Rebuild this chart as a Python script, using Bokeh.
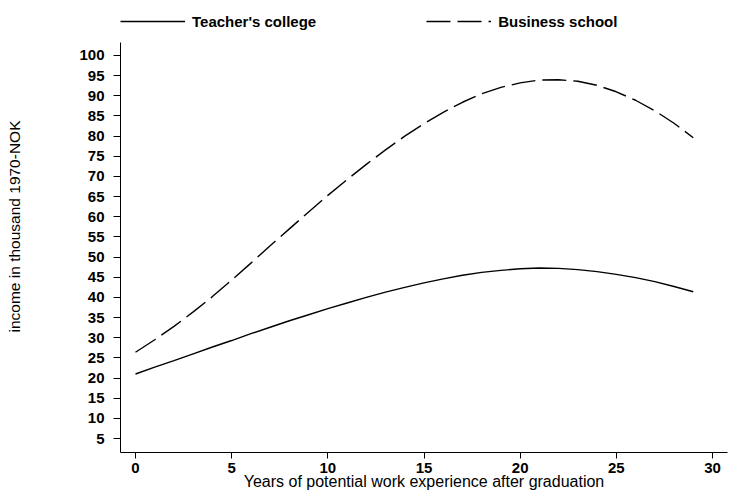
from bokeh.plotting import figure
from bokeh.models import Range1d, FixedTicker, Legend, LegendItem
from bokeh.embed import file_html
from bokeh.resources import INLINE

# --- data ---
years = list(range(30))
teacher = [21.0, 22.7, 24.3, 26.0, 27.7, 29.3, 31.0, 32.6, 34.2, 35.7,
           37.2, 38.6, 40.0, 41.3, 42.5, 43.6, 44.6, 45.5, 46.2, 46.7,
           47.1, 47.3, 47.2, 46.9, 46.4, 45.7, 44.9, 43.9, 42.7, 41.4]
business = [26.4, 29.5, 32.8, 36.4, 40.2, 44.3, 48.5, 52.8, 57.0, 61.2,
            65.3, 69.2, 73.0, 76.6, 80.0, 83.1, 85.9, 88.4, 90.5, 92.1,
            93.2, 93.9, 94.0, 93.6, 92.6, 91.0, 88.9, 86.3, 83.2, 79.6]
x_ticks = [0, 5, 10, 15, 20, 25, 30]
y_ticks = list(range(5, 101, 5))
series_names = ["Teacher's college", "Business school"]
x_title = "Years of potential work experience after graduation"
y_title = "income in thousand 1970-NOK"

FONT = "Liberation Sans"
Y_LOW, Y_AXIS_TOP, Y_TOP = 1.53, 103.2, 113.64

p = figure(width=729, height=492, output_backend="svg", toolbar_location=None,
           x_range=Range1d(-0.78, 30.78), y_range=Range1d(Y_LOW, Y_TOP),
           min_border_left=120, min_border_right=2, min_border_top=0,
           min_border_bottom=40)
p.title = None
p.background_fill_color = "white"
p.border_fill_color = "white"
p.outline_line_color = None
p.xgrid.visible = False
p.ygrid.visible = False

r1 = p.line(years, teacher, line_color="black", line_width=1.4)
r2 = p.line(years, business, line_color="black", line_width=1.4, line_dash="24 7")

# axes
for ax in (p.xaxis[0], p.yaxis[0]):
    ax.axis_line_color = "black"
    ax.axis_line_width = 1
    ax.major_tick_line_color = "black"
    ax.major_tick_in = 0
    ax.minor_tick_line_color = None
    ax.major_label_text_font = FONT
    ax.major_label_text_font_style = "bold"
    ax.major_label_text_font_size = "15px"
    ax.major_label_text_color = "black"
    ax.axis_label_text_font = FONT
    ax.axis_label_text_font_style = "normal"
    ax.axis_label_text_color = "black"

p.yaxis.bounds = (Y_LOW, Y_AXIS_TOP)
p.xaxis.major_tick_out = 6
p.yaxis.major_tick_out = 7
p.xaxis.ticker = FixedTicker(ticks=x_ticks)
p.yaxis.ticker = FixedTicker(ticks=y_ticks)
p.xaxis.axis_label = x_title
p.yaxis.axis_label = y_title
p.xaxis.axis_label_text_font_size = "16px"
p.yaxis.axis_label_text_font_size = "15.5px"
p.xaxis.major_label_standoff = 4
p.xaxis.axis_label_standoff = -3
p.yaxis.major_label_standoff = 9
p.yaxis.axis_label_standoff = 53

legend = Legend(items=[LegendItem(label=series_names[0], renderers=[r1]),
                       LegendItem(label=series_names[1], renderers=[r2])],
                location="top_left", orientation="horizontal",
                glyph_width=65, glyph_height=42, label_height=42,
                label_standoff=7, spacing=110, padding=0, margin=0,
                border_line_color=None, background_fill_alpha=0)
legend.label_text_font = FONT
legend.label_text_font_style = "bold"
legend.label_text_font_size = "15px"
legend.label_text_color = "black"
p.add_layout(legend)

open("out.html", "w").write(file_html(p, INLINE))
